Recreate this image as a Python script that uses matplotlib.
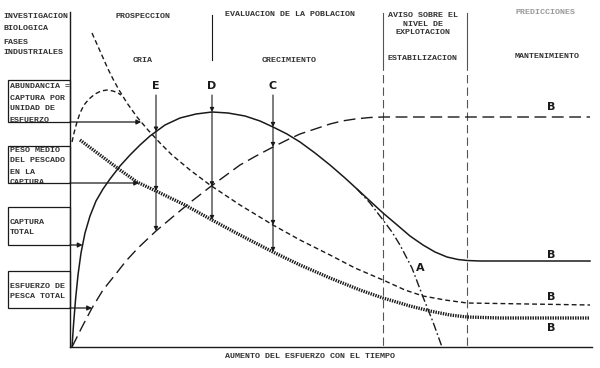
"""
Diagrama de fases de una pesquería: abundancia, peso medio, captura y esfuerzo.
"""
import numpy as np
import matplotlib
matplotlib.use("Agg")
import matplotlib.pyplot as plt
from matplotlib.patches import Rectangle

plt.rcParams["lines.scale_dashes"] = False
plt.rcParams["lines.solid_joinstyle"] = "round"
plt.rcParams["lines.dash_joinstyle"] = "round"
MONO = "Liberation Mono"
INK = "#1a1a1a"

# --- curves (pixel coords, y down) ---
captura_x = [72, 73.5, 75.5, 78, 81, 85, 90, 96, 103, 110, 120, 130, 140, 150, 165, 180, 196, 212, 228,
             245, 260, 273, 287, 300, 315, 330, 345, 357, 370, 383, 396, 410, 423, 435, 447, 458, 467,
             480, 590]
captura_y = [347, 325, 300, 275, 253, 233, 216, 201, 189, 179, 166, 155, 145, 136, 125, 118, 114, 112, 113,
             116, 121, 127, 134, 142, 153, 165, 178, 189, 201, 213, 224, 236, 245, 252, 257, 259.5, 260.5,
             261, 261]

colapso_x = [357, 370, 383, 392, 400, 412, 423, 433, 442]
colapso_y = [189, 203, 220, 232, 245, 268, 297, 322, 347]

esfuerzo_x = [72, 82, 92, 103, 115, 126, 138, 156, 175, 192, 210, 225, 240, 256, 273, 287, 300, 315,
              330, 342, 355, 370, 383, 590]
esfuerzo_y = [347, 327, 308, 290, 275, 261, 248, 231, 215, 201, 187, 176, 165, 156, 147, 140, 134, 129,
              124, 121, 119, 117.5, 117, 117]

abund_x = [92, 96, 100, 104, 108, 113, 119, 127, 137, 148, 160, 172, 190, 210, 240, 273, 300, 330,
           355, 383, 405, 423, 445, 467, 590]
abund_y = [33, 42, 51, 60, 69, 79, 90, 103, 117, 130, 143, 155, 170, 185, 205, 225, 240, 255,
           268, 280, 290, 296, 300, 303, 305]

joroba_x = [72, 74, 77, 80, 84, 89, 95, 101, 107, 113, 118, 121]
joroba_y = [142, 133, 122, 113, 105, 99, 94, 91, 90, 91, 93, 95]

peso_x = [80, 100, 120, 137, 156, 185, 212, 240, 273, 300, 330, 360, 383, 410, 430, 450, 467, 500, 590]
peso_y = [140, 155, 170, 182, 191, 205, 220, 235, 252, 265, 278, 290, 298, 306, 311, 315, 317, 318, 318]

# --- text ---
fases_izq = ["INVESTIGACION", "BIOLOGICA", "FASES", "INDUSTRIALES"]
cabecera = ["PROSPECCION", "EVALUACION DE LA POBLACION", "AVISO SOBRE EL\nNIVEL DE\nEXPLOTACION",
            "PREDICCIONES"]
subfases = ["CRIA", "CRECIMIENTO", "ESTABILIZACION", "MANTENIMIENTO"]
cajas = [["ABUNDANCIA =", "CAPTURA POR", "UNIDAD DE", "ESFUERZO"],
         ["PESO MEDIO", "DEL PESCADO", "EN LA", "CAPTURA"],
         ["CAPTURA", "TOTAL"],
         ["ESFUERZO DE", "PESCA TOTAL"]]
xlabel = "AUMENTO DEL ESFUERZO CON EL TIEMPO"
marcas = ["E", "D", "C"]
marcas_x = [156, 212, 273]

fig = plt.figure(figsize=(6, 3.68), dpi=100)
ax = fig.add_axes([0, 0, 1, 1])
ax.set_xlim(0, 600)
ax.set_ylim(368, 0)
ax.axis("off")

# axes
ax.plot([70, 70], [12, 347], color=INK, lw=1.0)
ax.plot([70, 592], [347, 347], color=INK, lw=1.0)

# phase separators
ax.plot([212, 212], [15, 60], color=INK, lw=0.8)
for xs in [383, 467]:
    ax.plot([xs, xs], [13, 62], color="#555", lw=0.8)
    ax.plot([xs, xs], [62, 347], color="#555", lw=0.8, dashes=(6, 3))

# curves
ax.plot(captura_x, captura_y, color=INK, lw=1.1)
ax.plot(colapso_x, colapso_y, color=INK, lw=1.0, dashes=(6, 2, 1.2, 2))
ax.plot(esfuerzo_x, esfuerzo_y, color=INK, lw=1.0, dashes=(8.5, 4))
ax.plot(abund_x, abund_y, color=INK, lw=1.0, dashes=(3.5, 2.2))
ax.plot(joroba_x, joroba_y, color=INK, lw=1.0, dashes=(3.5, 2.2))
ax.plot(peso_x, peso_y, color=INK, lw=2.4, dashes=(1.0, 0.8), dash_capstyle="butt")

# header text
for i, t in enumerate(fases_izq):
    ax.text(3, [17, 28, 43, 53][i], t, fontsize=6, family=MONO, weight="bold", color="#333",
            va="center", ha="left")
for t, cx, cy, c in zip(cabecera, [143, 290, 423, 545], [16, 15, 24, 13],
                        ["#333", "#333", "#333", "#999"]):
    ax.text(cx, cy, t, fontsize=6, family=MONO, weight="bold", color=c, ha="center", va="center",
            linespacing=1.3)
for t, cx, cy in zip(subfases, [143, 289, 423, 547], [61, 60, 58, 57]):
    ax.text(cx, cy, t, fontsize=6, family=MONO, weight="bold", color="#333", ha="center",
            va="center")

ax.text(310, 356, xlabel, fontsize=6, family=MONO, weight="bold", color="#333", ha="center",
        va="center")


def x_at(y, xs, ys):
    """x where a monotone stretch of a curve reaches height y."""
    xs, ys = np.asarray(xs, float), np.asarray(ys, float)
    order = np.argsort(ys)
    return np.interp(y, ys[order], xs[order])


# boxes with arrows to the curves
box_tops = [80, 146, 207, 271]
box_bottoms = [122, 183, 245, 308]
first_line = [87, 150, 222, 286]
targets = [
    x_at(122, abund_x[4:12], abund_y[4:12]),
    x_at(183, peso_x[:6], peso_y[:6]),
    x_at(245, captura_x[:12], captura_y[:12]),
    x_at(308, esfuerzo_x[:8], esfuerzo_y[:8]),
]
for lines, top, bot, y0, tx in zip(cajas, box_tops, box_bottoms, first_line, targets):
    rect = Rectangle((8, top), 62, bot - top, fill=False, edgecolor=INK, lw=0.9)
    ax.add_patch(rect)
    for k, t in enumerate(lines):
        txt = ax.text(10, y0 + k * 11, t, fontsize=6, family=MONO, weight="bold", color="#333",
                      va="center", ha="left", clip_on=True)
        txt.set_clip_path(rect)
    ax.annotate("", xy=(tx, bot), xytext=(70, bot),
                arrowprops=dict(arrowstyle="-|>", color=INK, lw=0.9, mutation_scale=7,
                                shrinkA=0, shrinkB=0))

# E, D, C vertical arrows
hits = {
    "E": [(captura_x, captura_y), (peso_x, peso_y), (esfuerzo_x, esfuerzo_y)],
    "D": [(captura_x, captura_y), (abund_x, abund_y), (peso_x, peso_y)],
    "C": [(captura_x, captura_y), (esfuerzo_x, esfuerzo_y), (abund_x, abund_y), (peso_x, peso_y)],
}
for lab, xm in zip(marcas, marcas_x):
    ax.text(xm, 86, lab, fontsize=8, weight="bold", color=INK, ha="center", va="center")
    ys = [np.interp(xm, cx, cy) for cx, cy in hits[lab]]
    prev = 95
    for yh in ys:
        ax.annotate("", xy=(xm, yh), xytext=(xm, prev),
                    arrowprops=dict(arrowstyle="-|>", color=INK, lw=0.8, mutation_scale=6,
                                    shrinkA=0, shrinkB=0))
        prev = yh

# A and B labels
ax.text(420, 268, "A", fontsize=8, weight="bold", color=INK, ha="center", va="center")
for yb in [107, 255, 297, 328]:
    ax.text(551, yb, "B", fontsize=8, weight="bold", color=INK, ha="center", va="center")

fig.savefig("out.png", dpi=100)
